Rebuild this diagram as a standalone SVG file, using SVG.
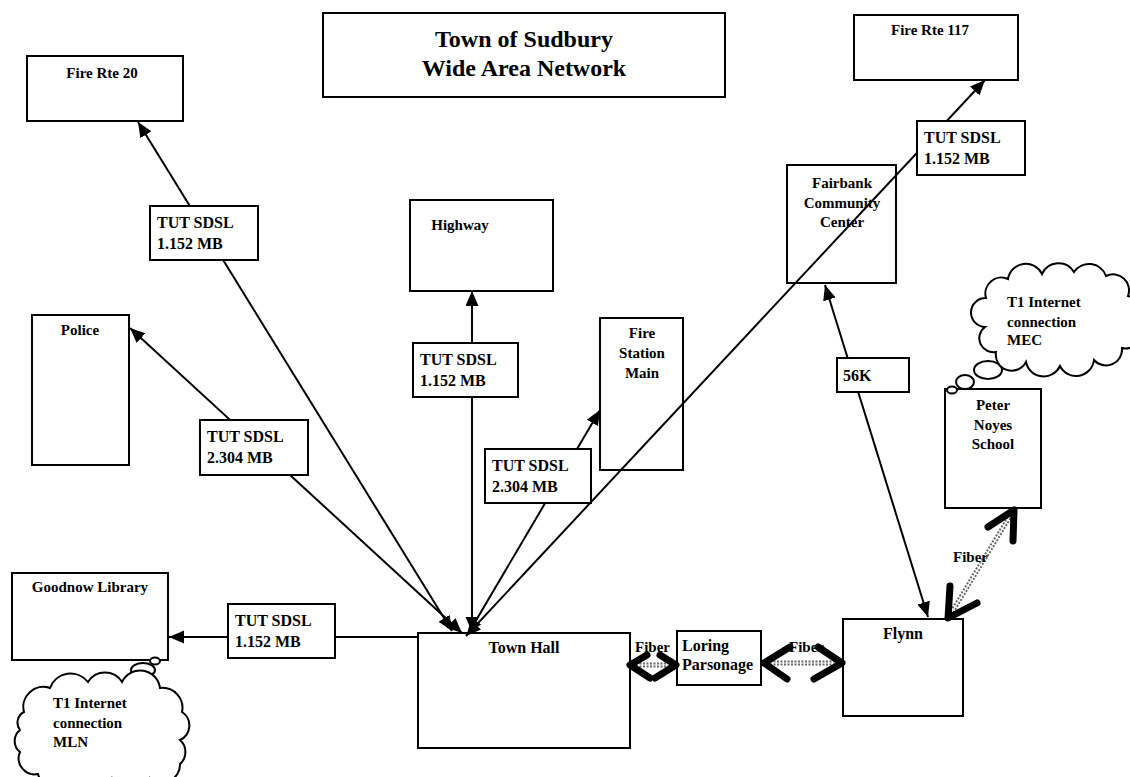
<svg xmlns="http://www.w3.org/2000/svg" width="1130" height="777" viewBox="0 0 1130 777">
<style>
.box{fill:#fff;stroke:#000;stroke-width:2}
.t{font-family:"Liberation Serif","Times New Roman",serif;font-weight:bold;font-size:15px;fill:#000}
.tm{text-anchor:middle}
.lt{font-family:"Liberation Serif","Times New Roman",serif;font-weight:bold;font-size:16px;fill:#000}
.title{font-family:"Liberation Serif","Times New Roman",serif;font-weight:bold;font-size:24px;text-anchor:middle}
.ln{stroke:#000;stroke-width:2;fill:none}
.arr{marker-end:url(#ah)}
.arr2{marker-start:url(#ah);marker-end:url(#ah)}
.chev{stroke:#000;stroke-width:7;fill:none;stroke-linecap:round;stroke-linejoin:round}
.dot{stroke:#666;stroke-width:5;stroke-dasharray:2 1.5;fill:none}
.dotc{stroke:#fff;stroke-width:1.2;fill:none}
.cloud{fill:#fff;stroke:#000;stroke-width:2}
</style>
<defs>
<marker id="ah" markerUnits="userSpaceOnUse" markerWidth="16" markerHeight="14" refX="15" refY="6.5" orient="auto-start-reverse">
<path d="M0,0 L15,6.5 L0,13 z" fill="#000"/>
</marker>
</defs>
<rect width="1130" height="777" fill="#fff"/>

<g id="title">
<rect class="box" x="323" y="13" width="402" height="84"/>
<text class="title" x="524" y="47">Town of Sudbury</text>
<text class="title" x="524" y="76">Wide Area Network</text>
</g>

<g id="fire-rte-20">
<rect class="box" x="27" y="56" width="156" height="65"/>
<text class="t tm" x="102" y="78">Fire Rte 20</text>
</g>
<g id="fire-rte-117">
<rect class="box" x="854" y="15" width="164" height="65"/>
<text class="t tm" x="930" y="35">Fire Rte 117</text>
</g>
<g id="highway">
<rect class="box" x="410" y="200" width="143" height="91"/>
<text class="t tm" x="460" y="230">Highway</text>
</g>
<g id="police">
<rect class="box" x="32" y="315" width="97" height="150"/>
<text class="t tm" x="80" y="335">Police</text>
</g>
<g id="fire-station-main">
<rect class="box" x="600" y="318" width="83" height="152"/>
<text class="t tm" x="642" y="338">Fire</text>
<text class="t tm" x="642" y="358">Station</text>
<text class="t tm" x="642" y="378">Main</text>
</g>
<g id="fairbank">
<rect class="box" x="787" y="165" width="109" height="118"/>
<text class="t tm" x="842" y="188">Fairbank</text>
<text class="t tm" x="842" y="208">Community</text>
<text class="t tm" x="842" y="227">Center</text>
</g>
<g id="peter-noyes">
<rect class="box" x="945" y="389" width="96" height="119"/>
<text class="t tm" x="993" y="410">Peter</text>
<text class="t tm" x="993" y="430">Noyes</text>
<text class="t tm" x="993" y="449">School</text>
</g>
<g id="goodnow">
<rect class="box" x="12" y="573" width="156" height="87"/>
<text class="t tm" x="90" y="592">Goodnow Library</text>
</g>
<g id="town-hall">
<rect class="box" x="418" y="633" width="212" height="115"/>
<text class="lt tm" x="524" y="653">Town Hall</text>
</g>
<g id="loring">
<rect class="box" x="677" y="631" width="84" height="54"/>
<text class="lt" x="682" y="651">Loring</text>
<text class="lt" x="682" y="670">Parsonage</text>
</g>
<g id="flynn">
<rect class="box" x="843" y="619" width="120" height="97"/>
<text class="lt tm" x="903" y="639">Flynn</text>
</g>

<g id="cloud-mln">
<ellipse class="cloud" cx="155" cy="661" rx="5" ry="3.5"/>
<ellipse class="cloud" cx="143" cy="670" rx="12" ry="7"/>
<path class="cloud" d="M24,712 A20,20 0 0 1 50,688 A22,22 0 0 1 88,682 A20,20 0 0 1 122,682 A20,20 0 0 1 160,688 A20,20 0 0 1 182,712 A16,16 0 0 1 180,740 A16,16 0 0 1 180,764 A18,18 0 0 1 150,778 A20,20 0 0 1 112,779 A20,20 0 0 1 74,780 A20,20 0 0 1 38,774 A16,16 0 0 1 20,752 A14,14 0 0 1 20,730 A12,12 0 0 1 24,712 z"/>
<text class="t" x="53" y="708">T1 Internet</text>
<text class="t" x="53" y="728">connection</text>
<text class="t" x="53" y="747">MLN</text>
</g>
<g id="cloud-mec">
<ellipse class="cloud" cx="952" cy="390" rx="5" ry="3.5"/>
<ellipse class="cloud" cx="965" cy="382" rx="9" ry="7"/>
<ellipse class="cloud" cx="988" cy="370" rx="14" ry="9"/>
<path class="cloud" d="M986,298 A16,16 0 0 1 1008,279 A18,18 0 0 1 1042,274 A18,18 0 0 1 1074,272 A18,18 0 0 1 1106,276 A16,16 0 0 1 1128,296 A14,14 0 0 1 1132,322 A14,14 0 0 1 1122,348 A16,16 0 0 1 1094,360 A18,18 0 0 1 1060,366 A18,18 0 0 1 1026,362 A16,16 0 0 1 996,352 A14,14 0 0 1 985,327 A12,12 0 0 1 986,298 z"/>
<text class="t" x="1007" y="307">T1 Internet</text>
<text class="t" x="1007" y="327">connection</text>
<text class="t" x="1007" y="345">MEC</text>
</g>

<g id="connectors">
<line class="ln arr2" x1="452" y1="631" x2="138" y2="122"/>
<line class="ln arr2" x1="462" y1="633" x2="130" y2="328"/>
<line class="ln arr2" x1="472" y1="632" x2="472" y2="291"/>
<line class="ln arr2" x1="468" y1="634" x2="600" y2="410"/>
<line class="ln arr2" x1="466" y1="636" x2="985" y2="80"/>
<line class="ln arr" x1="418" y1="637" x2="169" y2="637"/>
<line class="ln arr2" x1="928" y1="617" x2="825" y2="285"/>

<g id="fiber-1">
<line class="dot" x1="636" y1="665" x2="670" y2="665"/>
<line class="dotc" x1="636" y1="665" x2="670" y2="665"/>
<polyline class="chev" points="647,655 630,665 650,678"/>
<polyline class="chev" points="660,655 676,665 655,678"/>
</g>
<g id="fiber-2">
<line class="dot" x1="770" y1="663" x2="836" y2="663"/>
<line class="dotc" x1="770" y1="663" x2="836" y2="663"/>
<polyline class="chev" points="790,647 764,663 787,679"/>
<polyline class="chev" points="818,647 842,663 814,679"/>
</g>
<g id="fiber-3">
<line class="dot" x1="952" y1="612" x2="1010" y2="516"/>
<line class="dotc" x1="952" y1="612" x2="1010" y2="516"/>
<polyline class="chev" points="988,527 1014,510 1013,541"/>
<polyline class="chev" points="950,586 948,618 977,603"/>
</g>
<text class="t" x="635" y="652">Fiber</text>
<text class="t" x="789" y="652">Fiber</text>
<text class="t" x="953" y="562">Fiber</text>

<g id="label-fire20">
<rect class="box" x="150" y="206" width="108" height="54"/>
<text class="lt" x="157" y="228">TUT SDSL</text>
<text class="lt" x="157" y="249">1.152 MB</text>
</g>
<g id="label-police">
<rect class="box" x="200" y="420" width="108" height="55"/>
<text class="lt" x="207" y="442">TUT SDSL</text>
<text class="lt" x="207" y="463">2.304 MB</text>
</g>
<g id="label-highway">
<rect class="box" x="413" y="343" width="105" height="54"/>
<text class="lt" x="420" y="365">TUT SDSL</text>
<text class="lt" x="420" y="386">1.152 MB</text>
</g>
<g id="label-station">
<rect class="box" x="485" y="449" width="106" height="54"/>
<text class="lt" x="492" y="471">TUT SDSL</text>
<text class="lt" x="492" y="492">2.304 MB</text>
</g>
<g id="label-fire117">
<rect class="box" x="917" y="121" width="108" height="54"/>
<text class="lt" x="924" y="143">TUT SDSL</text>
<text class="lt" x="924" y="164">1.152 MB</text>
</g>
<g id="label-goodnow">
<rect class="box" x="228" y="604" width="107" height="54"/>
<text class="lt" x="235" y="626">TUT SDSL</text>
<text class="lt" x="235" y="647">1.152 MB</text>
</g>
<g id="label-56k">
<rect class="box" x="837" y="358" width="72" height="34"/>
<text class="lt" x="843" y="381">56K</text>
</g>
</g>
</svg>
